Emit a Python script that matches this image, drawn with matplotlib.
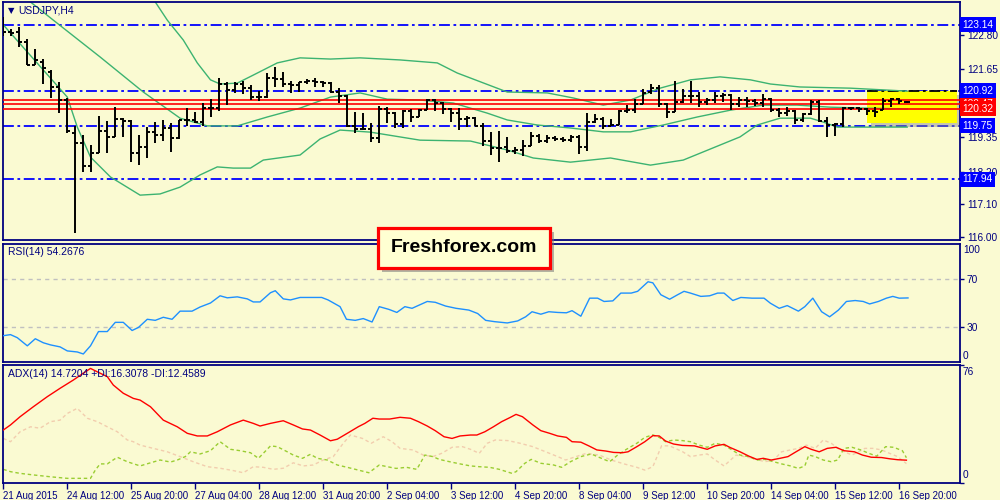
import matplotlib
matplotlib.use('Agg')
import matplotlib.pyplot as plt
from matplotlib.patches import Rectangle
import numpy as np

# ---------------- data ----------------
bar_open = [122.90,122.90,122.90,122.56,121.79,121.89,121.55,121.05,120.61,119.50,
            119.16,118.39,118.83,119.57,119.37,119.97,119.90,118.83,119.03,119.53,
            119.43,119.67,119.33,119.94,119.94,119.87,120.34,120.34,121.15,120.95,
            121.15,121.01,120.71,120.71,121.35,121.32,121.15,121.12,121.22,121.25,
            121.22,121.18,120.88,120.75,119.74,119.64,119.64,119.33,120.31,120.17,
            119.80,120.24,120.04,120.27,120.61,120.51,120.31,120.17,119.97,120.00,
            119.74,119.23,118.99,119.03,118.89,118.93,119.06,119.40,119.23,119.33,
            119.30,119.26,119.37,119.03,119.87,119.97,119.74,119.77,120.24,120.27,
            120.48,120.88,121.01,120.48,120.21,120.54,120.75,120.75,120.54,120.61,
            120.75,120.78,120.48,120.61,120.58,120.51,120.64,120.27,120.17,120.24,
            119.94,120.14,120.54,119.90,119.77,119.80,120.34,120.34,120.31,120.24,
            120.27,120.58,120.64,120.54]
bar_high = [123.41,123.00,123.07,122.67,122.33,121.99,121.62,121.22,120.68,119.74,
            119.43,119.10,120.07,119.90,120.38,120.00,119.94,119.43,119.70,119.87,
            119.94,119.84,119.94,120.34,120.21,120.51,120.64,121.35,121.22,121.22,
            121.25,121.12,120.91,121.52,121.72,121.55,121.25,121.22,121.32,121.35,
            121.25,121.22,121.01,120.78,120.21,120.17,119.84,120.41,120.38,120.21,
            120.27,120.31,120.31,120.64,120.64,120.54,120.34,120.34,120.07,120.04,
            119.84,119.53,119.57,119.37,119.03,119.26,119.53,119.47,119.43,119.40,
            119.37,119.43,119.43,120.17,120.14,120.04,119.97,120.27,120.44,120.64,
            120.98,121.15,121.12,120.51,121.25,120.98,121.25,120.88,120.68,120.88,
            120.85,120.81,120.71,120.71,120.64,120.81,120.68,120.34,120.38,120.27,
            120.17,120.61,120.61,120.04,119.84,120.38,120.38,120.38,120.34,120.38,
            120.68,120.68,120.68,120.58]
bar_low = [122.77,122.77,122.40,121.79,121.79,121.15,120.68,120.17,119.50,116.13,
           118.19,118.19,118.83,118.83,119.37,119.37,118.52,118.42,118.66,119.16,
           119.23,118.86,119.30,119.74,119.84,119.74,120.04,120.24,120.44,120.85,
           120.81,120.61,120.58,120.68,121.05,121.05,120.85,120.88,121.15,121.05,
           121.05,120.85,120.51,119.70,119.50,119.60,119.20,119.16,119.84,119.67,
           119.67,119.87,120.04,120.27,120.24,120.14,119.87,119.60,119.70,119.74,
           119.06,118.76,118.52,118.83,118.79,118.73,119.06,119.16,119.16,119.23,
           119.20,119.20,118.79,118.89,119.84,119.64,119.74,119.77,120.17,120.17,
           120.48,120.81,120.38,120.00,120.21,120.51,120.51,120.38,120.44,120.51,
           120.54,120.27,120.38,120.38,120.41,120.38,120.21,120.04,120.07,119.80,
           119.87,120.11,119.87,119.37,119.40,119.70,120.27,120.21,120.11,120.04,
           120.27,120.38,120.48,120.51]
bar_close = [122.90,122.87,122.56,121.79,121.96,121.69,121.05,120.61,119.57,119.16,
             118.39,118.83,119.57,119.37,119.97,119.90,118.83,119.03,119.53,119.43,
             119.67,119.33,119.94,119.94,119.87,120.34,120.34,121.15,120.95,121.15,
             121.01,120.71,120.71,121.35,121.32,121.15,121.12,121.22,121.25,121.22,
             121.18,120.88,120.75,119.74,119.64,119.64,119.33,120.31,120.17,119.80,
             120.24,120.04,120.27,120.61,120.51,120.31,120.17,119.97,120.00,119.74,
             119.23,118.99,118.99,118.89,118.93,119.06,119.40,119.23,119.33,119.30,
             119.26,119.37,119.03,119.87,119.97,119.74,119.77,120.24,120.27,120.48,
             120.85,121.01,120.48,120.21,120.54,120.75,120.75,120.54,120.61,120.75,
             120.78,120.48,120.61,120.58,120.51,120.64,120.27,120.17,120.24,119.94,
             120.14,120.54,119.90,119.77,119.80,120.34,120.34,120.31,120.24,120.21,
             120.58,120.64,120.58,120.54]

# Bollinger-type bands (bar index, price)
upper_x = [19.0,20.5,22.5,24.25,25.9,27.1,29.25,31.25,34.25,37.1,40.9,44.6,49.6,54.25,
           56.75,63.0,68.0,71.25,75.0,78.4,82.1,85.9,89.6,93.4,95.9,99.6,105.9,113.0]
upper_y = [123.91,123.30,122.63,121.86,121.29,121.15,121.18,121.45,121.86,122.03,121.99,
           122.03,121.96,121.86,121.52,120.88,120.85,120.68,120.44,120.61,121.01,121.29,
           121.39,121.29,121.15,121.05,121.01,120.91]
mid_x = [3.4,6.25,12.1,17.5,22.1,25.5,29.25,33.0,37.1,40.9,44.6,48.0,52.1,56.25,60.5,63.0,
         66.75,70.9,75.0,78.4,82.5,86.75,90.9,95.0,99.25,103.4,107.5,113.0]
mid_y = [123.91,123.30,122.06,120.88,120.00,119.74,119.74,120.04,120.34,120.71,120.85,
         120.64,120.61,120.51,120.17,119.94,119.77,119.67,119.54,119.54,119.77,120.04,
         120.27,120.44,120.44,120.37,120.34,120.31]
low_x = [0,8.0,9.25,10.9,13.4,17.1,19.6,22.1,24.6,26.75,28.75,30.9,32.5,37.1,39.6,42.1,
         45.9,52.1,58.4,63.0,66.25,70.9,75.9,80.9,85.0,92.1,94.25,97.1,100.9,102.5,104.25,113.0]
low_y = [123.14,120.71,119.70,118.69,118.02,117.41,117.45,117.68,118.09,118.36,118.32,
         118.32,118.59,118.76,119.30,119.60,119.53,119.26,119.23,118.93,118.66,118.52,
         118.66,118.42,118.59,119.37,119.77,120.00,120.00,119.87,119.70,119.70]

blue_levels = [123.14, 120.92, 119.75, 117.94]
red_levels = [120.62, 120.47, 120.32]
price_ticks = [122.80, 121.65, 120.50, 119.35, 118.20, 117.10, 116.00]
hidden_tick = 120.50   # its label sits behind the red price boxes

rsi_x = [0,0.9,1.75,3.0,4.0,5.0,5.9,7.1,8.0,9.25,10.0,10.9,11.9,13.0,14.0,15.0,16.1,16.9,
         18.0,19.0,20.0,21.1,22.1,23.6,24.6,25.9,27.1,28.0,29.25,30.5,31.25,32.1,33.4,34.0,
         35.0,35.9,37.1,39.8,40.6,42.1,42.9,44.0,45.0,46.1,47.0,48.2,49.2,50.2,51.1,53.0,
         54.0,55.3,56.6,58.2,59.3,60.3,61.4,63.0,64.3,65.3,66.1,67.2,68.2,69.3,70.4,71.1,
         72.2,73.3,74.3,75.1,76.2,77.2,78.5,79.3,80.6,81.2,82.2,83.3,84.3,85.1,85.9,87.2,
         88.3,89.3,90.1,91.2,92.2,93.6,95.1,95.9,97.0,98.0,99.4,100.2,101.2,102.3,103.3,
         104.4,105.4,106.5,107.5,108.3,109.4,110.4,111.2,112.0,113.1]
rsi_v = [22.3,23.2,20.6,13.7,19.7,16.3,14.5,12.8,9.4,8.5,6.8,13.7,25.8,25.8,33.6,33.6,26.7,
         29.3,36.2,35.3,37.9,36.2,43.1,43.1,46.6,50.0,56.1,54.4,55.2,53.5,50.9,50.9,58.7,
         60.4,53.5,52.6,54.7,54.7,52.6,46.9,36.2,35.3,36.8,33.9,46.9,44.6,42.0,46.9,45.5,
         51.3,50.6,47.4,45.5,44.0,41.1,35.3,34.2,33.1,34.8,38.3,42.6,40.5,42.6,42.0,41.7,
         43.5,38.8,54.1,54.1,51.3,51.8,58.4,58.4,59.9,68.0,67.1,57.0,53.2,57.0,59.9,58.4,
         55.6,56.1,58.4,58.4,52.1,54.7,54.1,54.1,49.8,45.5,47.8,43.1,46.9,54.1,42.6,38.3,
         44.0,51.3,52.1,51.3,49.2,51.3,54.1,55.6,54.1,54.3]

adx_x = [0,0.9,2.1,3.75,5.5,7.1,8.75,10.0,10.9,11.75,13.0,13.75,15.0,16.25,17.1,18.4,20.0,
         21.75,23.0,24.25,25.5,26.75,28.4,30.0,31.25,32.1,33.4,35.0,36.25,37.4,38.4,39.6,
         40.9,41.75,43.0,44.4,45.2,46.2,47.0,48.3,49.6,50.9,51.9,53.0,54.0,55.1,56.1,57.1,
         58.4,59.2,60.2,61.3,62.3,63.4,64.1,64.9,66.2,67.2,68.3,69.3,70.4,71.1,72.2,73.2,
         74.2,75.3,76.3,77.4,78.1,79.2,80.2,81.2,82.0,82.8,83.8,84.9,86.4,88.0,89.0,90.1,
         90.8,92.1,93.2,94.2,95.0,96.0,97.1,98.1,99.1,100.2,101.0,102.0,103.0,104.1,105.1,
         106.4,107.4,108.5,109.8,110.8,111.8,112.9]
adx_v = [34.1,37.4,42.7,49.1,55.6,61.0,66.3,70.7,73.8,71.6,68.5,63.1,57.8,54.5,53.4,49.1,
         40.5,36.2,32.0,30.3,30.3,33.0,37.4,40.5,38.4,36.7,38.4,40.1,37.4,34.8,34.1,30.9,
         27.2,28.2,32.0,36.3,38.4,41.7,41.2,41.2,42.3,41.7,39.5,36.7,33.7,29.8,28.7,30.3,
         30.9,30.9,33.0,36.3,39.5,42.3,44.2,42.7,37.4,33.7,32.0,30.3,29.4,26.6,26.3,23.9,
         21.3,20.6,19.7,19.5,20.1,23.4,26.6,30.5,30.3,27.0,25.1,24.2,23.9,21.7,23.9,24.9,
         23.0,20.1,17.3,15.2,15.9,14.8,15.9,17.0,20.1,23.4,21.7,20.1,22.3,23.0,20.8,20.1,
         18.0,16.6,16.4,15.6,15.0,14.7]
pdi_x = [0,0.9,2.1,3.75,5.9,8.0,9.25,10.9,11.5,12.1,13.0,14.25,15.5,17.1,18.4,19.6,20.9,
         21.75,22.75,23.4,24.6,25.9,27.1,28.4,29.6,30.9,31.9,33.4,34.25,35.5,36.25,37.4,
         38.4,39.25,40.5,41.75,43.0,44.4,45.7,47.0,48.0,49.1,50.4,51.7,52.7,53.7,54.5,55.8,
         57.1,58.4,59.5,60.8,62.0,63.6,64.1,65.2,66.0,67.2,68.8,69.8,70.9,72.2,73.5,74.5,
         75.8,76.8,77.9,79.2,80.2,81.2,82.0,82.8,83.8,84.9,85.9,87.0,88.0,89.0,90.1,91.1,
         92.1,93.2,94.2,95.2,96.3,97.3,98.4,99.4,100.2,100.7,101.5,102.5,103.5,104.3,105.1,
         106.1,107.2,108.2,109.2,110.3,111.3,112.4,112.9]
pdi_v = [8.8,7.3,6.2,5.2,4.0,3.0,3.0,3.0,8.3,12.3,12.3,16.6,13.7,11.0,13.0,14.8,13.5,14.8,
         17.0,20.1,18.7,20.8,26.6,21.7,20.8,19.5,15.9,23.9,23.4,20.1,18.0,15.9,18.5,15.9,
         14.8,11.6,10.1,8.3,6.6,11.6,10.5,9.4,10.1,8.8,18.0,17.0,15.2,13.7,12.3,11.0,10.5,
         10.1,8.8,6.2,7.3,12.7,15.2,12.7,11.6,10.1,13.7,17.0,18.7,16.5,13.7,18.0,21.7,25.6,
         29.4,31.0,29.4,26.6,27.7,27.3,26.6,24.4,23.0,25.6,24.4,21.3,18.0,17.0,14.8,15.2,
         13.7,12.3,11.0,9.4,11.0,18.0,17.0,14.8,13.7,14.8,22.3,23.0,21.3,19.1,17.3,23.4,
         23.0,20.8,16.3]
mdi_x = [0,0.9,2.1,3.4,4.6,5.9,7.1,8.0,9.25,10.5,11.75,13.0,14.25,15.5,16.25,17.1,18.75,
         20.5,22.1,23.75,25.5,27.1,28.75,30.0,31.25,32.5,33.75,35.0,36.25,37.5,38.75,40.0,
         41.25,42.5,43.4,44.9,46.0,47.5,48.6,49.6,51.2,52.5,53.7,54.8,56.1,57.4,58.4,59.5,
         60.5,61.5,63.1,64.6,66.2,67.8,69.3,70.3,71.6,72.9,74.5,76.0,77.6,79.2,80.2,81.2,
         82.3,83.3,84.9,85.9,87.0,88.0,89.0,90.1,91.6,92.6,93.7,95.2,96.3,97.3,98.4,99.4,
         100.4,101.5,102.5,103.5,104.6,106.1,107.7,108.7,109.8,110.8,111.8,112.9]
mdi_v = [28.7,26.6,33.0,36.2,35.3,39.5,40.5,44.8,48.1,41.7,39.5,36.2,33.0,27.7,26.6,24.4,
         22.3,20.1,17.0,13.7,10.5,9.5,8.0,6.6,10.5,10.1,8.8,9.5,13.0,11.0,11.6,14.8,17.0,
         25.6,30.9,28.7,25.6,29.8,26.6,22.3,21.3,18.0,17.0,19.1,23.0,23.4,21.7,19.1,25.6,
         27.7,27.3,25.6,23.4,20.1,17.0,14.8,17.0,19.1,18.0,14.8,12.3,10.1,8.3,10.5,24.0,
         23.9,20.2,17.0,18.0,18.7,14.8,11.0,18.0,17.0,15.9,13.7,14.8,20.1,21.3,22.3,24.4,
         22.3,27.7,25.6,21.3,18.0,22.3,22.3,21.3,19.1,17.0,12.5]

date_labels = ["21 Aug 2015", "24 Aug 12:00", "25 Aug 20:00", "27 Aug 04:00", "28 Aug 12:00",
               "31 Aug 20:00", "2 Sep 04:00", "3 Sep 12:00", "4 Sep 20:00", "8 Sep 04:00",
               "9 Sep 12:00", "10 Sep 20:00", "14 Sep 04:00", "15 Sep 12:00", "16 Sep 20:00"]
BARS_PER_LABEL = 8

# ---------------- style ----------------
BG = '#FAFAD2'
NAVY = '#000080'
FONT = 'Liberation Sans'
plt.rcParams['font.family'] = [FONT, 'DejaVu Sans']

fig = plt.figure(figsize=(10, 5), dpi=100, facecolor=BG)
W = 1000.0; H = 500.0
def ax_rect(x0, x1, top, bottom):
    return [x0 / W, 1 - bottom / H, (x1 - x0) / W, (bottom - top) / H]

ax = fig.add_axes(ax_rect(2.5, 960, 2, 240))
axr = fig.add_axes(ax_rect(2.5, 960, 244, 362))
axa = fig.add_axes(ax_rect(2.5, 960, 365, 483))

XLIM = (-0.1, 119.6)
for a in (ax, axr, axa):
    a.set_facecolor(BG)
    for s in a.spines.values():
        s.set_color(NAVY)
        s.set_linewidth(1.3)
    a.set_xlim(*XLIM)
    a.yaxis.tick_right()
    a.tick_params(axis='y', colors=NAVY, labelcolor=NAVY, length=3, width=1,
                  labelsize=7.3, pad=2, direction='out')
    a.set_xticks([])

# ---------------- main price panel ----------------
ax.set_ylim(115.90, 123.91)
ax.set_yticks(price_ticks)
ax.set_yticklabels(['' if v == hidden_tick else '%.2f' % v for v in price_ticks])

for v in blue_levels:
    ax.axhline(v, color='#0000FF', lw=1.3, ls=(0, (6, 2, 1.5, 2)), zorder=1.2)

# yellow highlight box with shadow
bx0, bx1, by0, by1 = 108.0, 119.25, 119.84, 120.92
ax.add_patch(Rectangle((bx0 + 0.5, by0 - 0.14), bx1 - bx0, by1 - by0, fc='#888888',
                       ec='none', alpha=0.45, zorder=1.3))
ax.add_patch(Rectangle((bx0, by0), bx1 - bx0, by1 - by0, fc='#FFFF00', ec='none', zorder=1.5))
ax.hlines(120.92, bx0, bx1, color='black', lw=1.3, ls=(0, (6, 2, 1.5, 2)), zorder=1.6)

ax.plot(upper_x, upper_y, color='#3CB371', lw=1.0, zorder=2.5)
ax.plot(mid_x, mid_y, color='#3CB371', lw=1.0, zorder=2.5)
ax.plot(low_x, low_y, color='#3CB371', lw=1.0, zorder=2.5)

for v in red_levels:
    ax.axhline(v, color='#FF0000', lw=1.2, zorder=3)

idx = np.arange(len(bar_close))
ax.vlines(idx, bar_low, bar_high, color='black', lw=1.4, zorder=4)
ax.hlines(bar_open, idx - 0.4, idx, color='black', lw=1.4, zorder=4)
ax.hlines(bar_close, idx, idx + 0.4, color='black', lw=1.4, zorder=4)

def price_box(v, fc):
    ax.text(1.0025, v, '%.2f' % v, transform=ax.get_yaxis_transform(), ha='left',
            va='center', fontsize=7.3, color='white', family=FONT,
            bbox=dict(boxstyle='square,pad=0.25', fc=fc, ec='none'), zorder=10, clip_on=False)

for v in red_levels:
    price_box(v, '#FF0000')
for v in blue_levels:
    price_box(v, '#0000FF')

fig.text(8 / W, 1 - 10.5 / H, '\u25BC', fontsize=6, color=NAVY, family='DejaVu Sans',
         ha='left', va='center')
fig.text(18 / W, 1 - 10.5 / H, 'USDJPY,H4', fontsize=7.5, color=NAVY, ha='left', va='center')

# ---------------- RSI panel ----------------
axr.set_ylim(0, 100)
axr.set_yticks([70, 30])
axr.set_yticklabels(['70', '30'])
for v in (70, 30):
    axr.axhline(v, color='#C0C0C0', lw=1.0, ls=(0, (3, 3)), zorder=1)
axr.plot(rsi_x, rsi_v, color='#1E90FF', lw=1.0, zorder=3)
axr.text(1.003, 95, '100', transform=axr.get_yaxis_transform(), fontsize=7.3, color=NAVY,
         ha='left', va='center', clip_on=False)
axr.text(1.003, 5.5, '0', transform=axr.get_yaxis_transform(), fontsize=7.3, color=NAVY,
         ha='left', va='center', clip_on=False)
axr.text(5.5 / 957.5, 1 - 8 / 118, 'RSI(14) 54.2676', transform=axr.transAxes, fontsize=7.5,
         color=NAVY, ha='left', va='center')

# ---------------- ADX panel ----------------
axa.set_ylim(0, 76)
axa.set_yticks([0, 76])
axa.set_yticklabels(['', ''])
axa.plot(mdi_x, mdi_v, color='#F2CDAE', lw=1.0, ls=(0, (2.5, 2)), zorder=2)
axa.plot(pdi_x, pdi_v, color='#9ACD32', lw=1.0, ls=(0, (2.5, 2)), zorder=2.5)
axa.plot(adx_x, adx_v, color='#FF0000', lw=1.0, zorder=3)
axa.text(1.003, 71.5, '76', transform=axa.get_yaxis_transform(), fontsize=7.3, color=NAVY,
         ha='left', va='center', clip_on=False)
axa.text(1.003, 5, '0', transform=axa.get_yaxis_transform(), fontsize=7.3, color=NAVY,
         ha='left', va='center', clip_on=False)
axa.text(5.5 / 957.5, 1 - 9 / 118, 'ADX(14) 14.7204 +DI:16.3078 -DI:12.4589',
         transform=axa.transAxes, fontsize=7.5, color=NAVY, ha='left', va='center')

xt = [BARS_PER_LABEL * k for k in range(len(date_labels))]
axa.set_xticks(xt)
axa.set_xticklabels(date_labels)
axa.tick_params(axis='x', colors=NAVY, labelcolor=NAVY, length=4, width=1, labelsize=7.0,
                pad=1.5, direction='out')
for lab in axa.get_xticklabels():
    lab.set_ha('left')

# ---------------- logo ----------------
lx0, lx1, ly0, ly1 = 378, 550, 228, 268
fig.add_artist(Rectangle(((lx0 + 4) / W, 1 - (ly1 + 4) / H), (lx1 - lx0) / W, (ly1 - ly0) / H,
                         transform=fig.transFigure, fc='#7a7a7a', ec='none', alpha=0.55, zorder=20))
fig.add_artist(Rectangle((lx0 / W, 1 - ly1 / H), (lx1 - lx0) / W, (ly1 - ly0) / H,
                         transform=fig.transFigure, fc='#FFFFD2', ec='#FF0000', lw=2.3, zorder=21))
fig.text((lx0 + lx1) / 2 / W, 1 - (ly0 + ly1) / 2 / H, 'Freshforex.com', fontsize=14,
         fontweight='bold', family=FONT, color='black', ha='center', va='center', zorder=22)

fig.savefig('out.png', dpi=100, facecolor=BG)
